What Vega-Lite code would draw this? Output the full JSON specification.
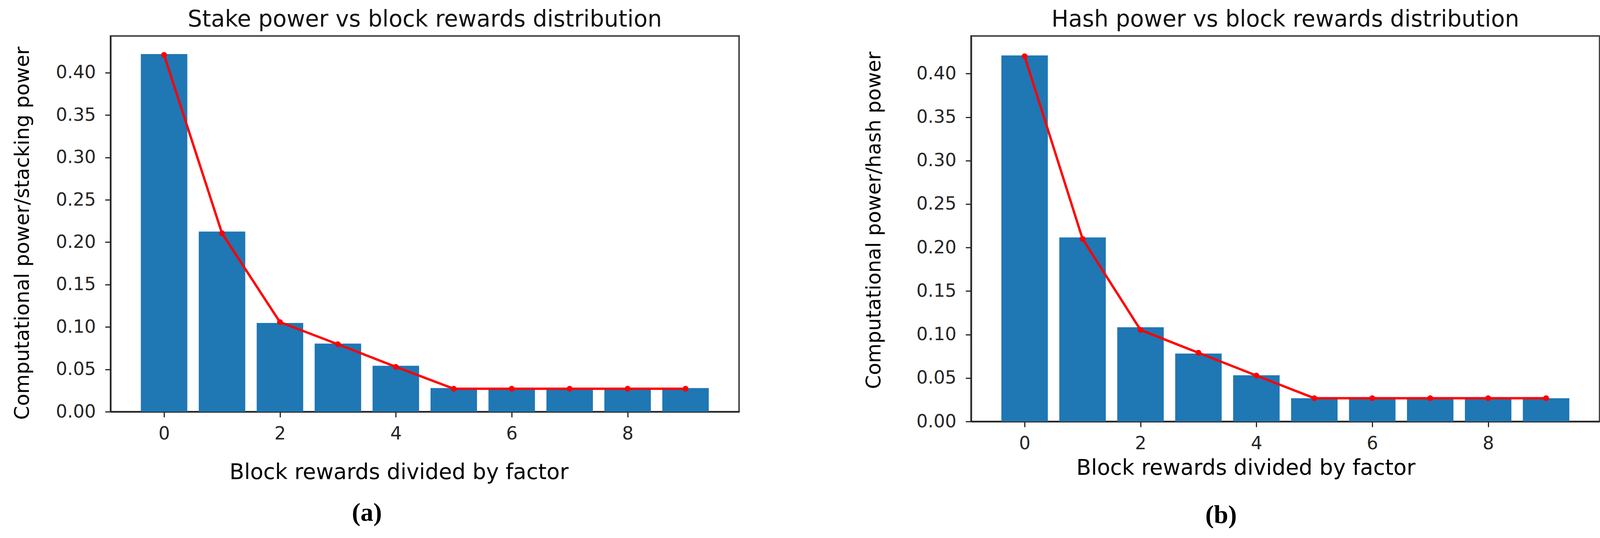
{
  "$schema": "https://vega.github.io/schema/vega-lite/v6.json",
  "background": "white",
  "padding": {"left": 30, "top": 20, "right": 0, "bottom": 0},
  "spacing": 316,
  "hconcat": [
    {
      "title": {"text": "(a)", "orient": "bottom", "anchor": "middle", "font": "Liberation Serif", "fontSize": 66, "fontWeight": "bold", "color": "#000000", "offset": 43, "dx": -23},
      "vconcat": [
        {
          "title": {"text": "Stake power vs block rewards distribution", "anchor": "middle", "font": "DejaVu Sans", "fontSize": 58, "fontWeight": "normal", "color": "#111111", "offset": 12},
          "width": 1609,
          "height": 961,
          "data": {"values": [
            {"x": 0, "bar": 0.422, "line": 0.421},
            {"x": 1, "bar": 0.2125, "line": 0.2105},
            {"x": 2, "bar": 0.1047, "line": 0.1057},
            {"x": 3, "bar": 0.0804, "line": 0.0796},
            {"x": 4, "bar": 0.0542, "line": 0.0529},
            {"x": 5, "bar": 0.0279, "line": 0.0271},
            {"x": 6, "bar": 0.0279, "line": 0.0271},
            {"x": 7, "bar": 0.0279, "line": 0.0271},
            {"x": 8, "bar": 0.0279, "line": 0.0271},
            {"x": 9, "bar": 0.0279, "line": 0.0271}
          ]},
          "encoding": {
            "x": {"field": "x", "type": "quantitative", "scale": {"domain": [-0.89, 9.89], "nice": false, "zero": false},
                  "axis": {"values": [0, 2, 4, 6, 8], "title": "Block rewards divided by factor", "titlePadding": 49, "titleX": 738}}
          },
          "layer": [
            {
              "mark": {"type": "bar", "size": 119, "color": "#1f77b4"},
              "encoding": {
                "y": {"field": "bar", "type": "quantitative", "scale": {"domain": [0, 0.4433], "nice": false},
                      "axis": {"values": [0, 0.05, 0.1, 0.15, 0.2, 0.25, 0.3, 0.35, 0.4], "format": ".2f", "title": "Computational power/stacking power", "titlePadding": 58, "titleY": 504}}
              }
            },
            {
              "mark": {"type": "line", "color": "#ff0000", "strokeWidth": 6, "point": {"filled": true, "size": 220, "color": "#ff0000"}},
              "encoding": {
                "y": {"field": "line", "type": "quantitative", "axis": {"title": "Computational power/stacking power"}}
              }
            }
          ]
        }
      ]
    },
    {
      "title": {"text": "(b)", "orient": "bottom", "anchor": "middle", "font": "Liberation Serif", "fontSize": 66, "fontWeight": "bold", "color": "#000000", "offset": 60, "dx": -28},
      "vconcat": [
        {
          "title": {"text": "Hash power vs block rewards distribution", "anchor": "middle", "font": "DejaVu Sans", "fontSize": 58, "fontWeight": "normal", "color": "#111111", "offset": 12},
          "width": 1609,
          "height": 986,
          "data": {"values": [
            {"x": 0, "bar": 0.4209, "line": 0.42},
            {"x": 1, "bar": 0.2116, "line": 0.21},
            {"x": 2, "bar": 0.1084, "line": 0.1053},
            {"x": 3, "bar": 0.0781, "line": 0.079},
            {"x": 4, "bar": 0.0532, "line": 0.0528},
            {"x": 5, "bar": 0.0268, "line": 0.0268},
            {"x": 6, "bar": 0.0268, "line": 0.0268},
            {"x": 7, "bar": 0.0268, "line": 0.0268},
            {"x": 8, "bar": 0.0268, "line": 0.0268},
            {"x": 9, "bar": 0.0268, "line": 0.0268}
          ]},
          "encoding": {
            "x": {"field": "x", "type": "quantitative", "scale": {"domain": [-0.89, 9.89], "nice": false, "zero": false},
                  "axis": {"values": [0, 2, 4, 6, 8], "title": "Block rewards divided by factor", "titlePadding": 13, "titleX": 703}}
          },
          "layer": [
            {
              "mark": {"type": "bar", "size": 119, "color": "#1f77b4"},
              "encoding": {
                "y": {"field": "bar", "type": "quantitative", "scale": {"domain": [0, 0.4433], "nice": false},
                      "axis": {"values": [0, 0.05, 0.1, 0.15, 0.2, 0.25, 0.3, 0.35, 0.4], "format": ".2f", "title": "Computational power/hash power", "titlePadding": 81, "titleY": 471}}
              }
            },
            {
              "mark": {"type": "line", "color": "#ff0000", "strokeWidth": 6, "point": {"filled": true, "size": 220, "color": "#ff0000"}},
              "encoding": {
                "y": {"field": "line", "type": "quantitative", "axis": {"title": "Computational power/hash power"}}
              }
            }
          ]
        }
      ]
    }
  ],
  "config": {
    "view": {"stroke": "#444444", "strokeWidth": 4},
    "axis": {
      "labelFont": "DejaVu Sans", "labelFontSize": 46, "labelColor": "#262626",
      "titleFont": "DejaVu Sans", "titleFontSize": 51, "titleFontWeight": "normal", "titleColor": "#000000",
      "tickSize": 14, "tickWidth": 3, "tickColor": "#262626",
      "domainColor": "#262626", "domainWidth": 4,
      "grid": false, "labelFlush": false, "labelOverlap": false
    },
    "axisX": {"titleFontSize": 55, "labelPadding": 20},
    "axisY": {"labelPadding": 24}
  }
}
